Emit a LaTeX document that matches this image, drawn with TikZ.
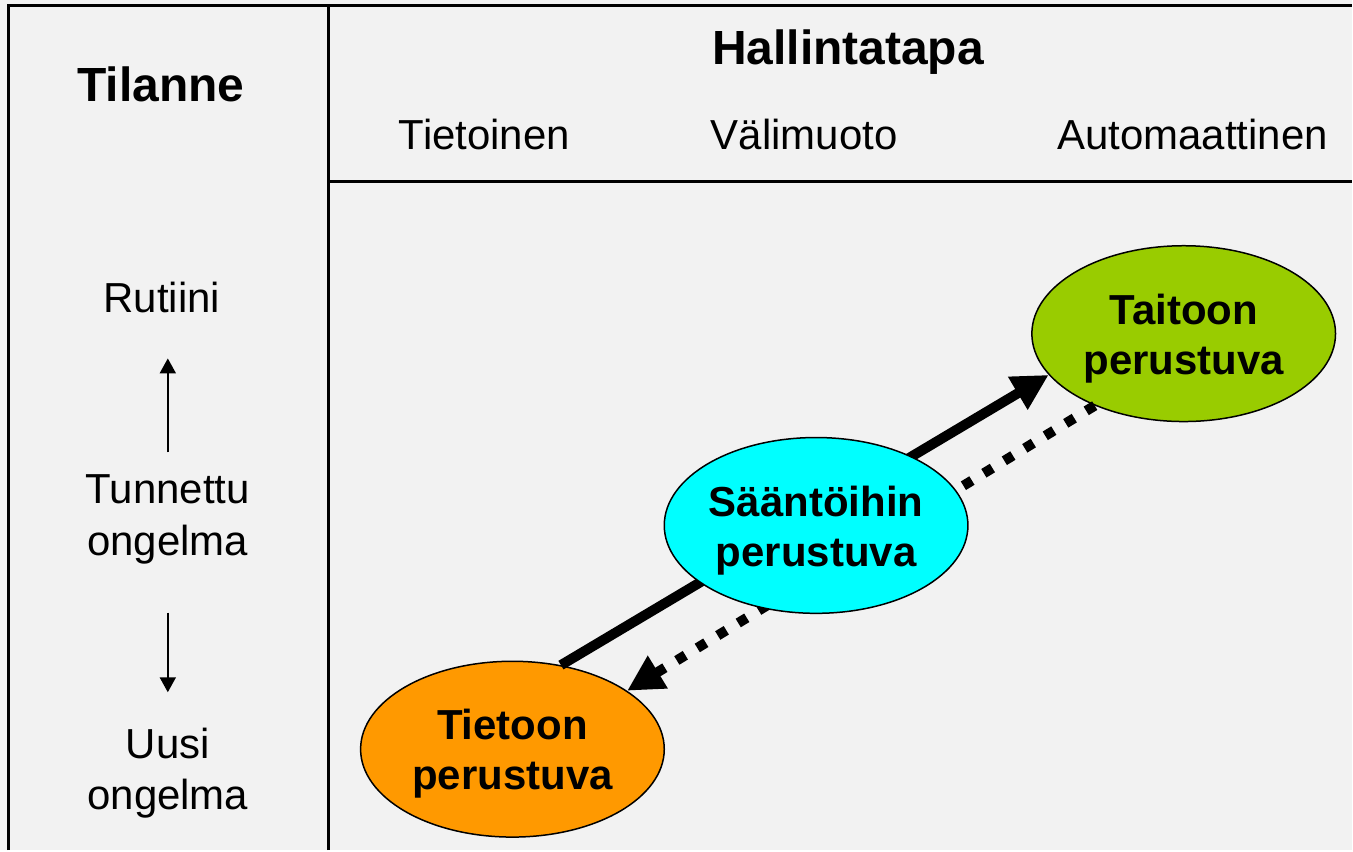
\documentclass[tikz,border=0pt]{standalone}
\usepackage{fontspec}
\setmainfont{Liberation Sans}
\usepackage{tikz}
\usetikzlibrary{arrows.meta,shapes.geometric}
\definecolor{bgGray}{HTML}{F2F2F2}
\definecolor{orangeFill}{HTML}{FF9900}
\definecolor{cyanFill}{HTML}{00FFFF}
\definecolor{greenFill}{HTML}{99CC00}
\newcommand{\topPad}{\rule{0pt}{20pt}}

\begin{document}
\begin{tikzpicture}[x=0.5pt,y=-0.5pt,
			frameLine/.style={draw=black, line width=1.5pt},
			titleText/.style={inner sep=0pt, font=\fontsize{24pt}{29pt}\selectfont\bfseries},
			labelText/.style={inner sep=0pt, font=\fontsize{21pt}{26pt}\selectfont},
			bubble/.style={shape=ellipse, draw=black, line width=0.75pt, inner sep=0pt,
				minimum width=152pt, minimum height=88pt, align=center,
				font=\fontsize{21pt}{25pt}\selectfont\bfseries},
			flowArrow/.style={line width=5pt, -{Triangle[length=18pt,width=18pt]}},
			backArrow/.style={line width=5pt, dash pattern=on 5pt off 7pt, -{Triangle[length=18pt,width=18pt]}},
			thinArrow/.style={line width=1pt, -{Triangle[length=7.5pt,width=8pt]}}]
  \fill[bgGray] (0,0) rectangle (1353,851);
  % ruudukko
  \draw[frameLine] (8.7,851) -- (8.7,5.7) -- (1353,5.7);
  \draw[frameLine] (329,851) -- (329,5.7);
  \draw[frameLine] (329,182) -- (1353,182);
  % otsikot
  \node[titleText, anchor=base] (tilanne) at (161,102) {Tilanne};
  \node[titleText, anchor=base] (hallinta) at (849,65) {Hallintatapa};
  \node[labelText, anchor=base] (tietoinen) at (485,150) {Tietoinen};
  \node[labelText, anchor=base] (valimuoto) at (805,150) {Välimuoto};
  \node[labelText, anchor=base] (automaat) at (1194,150) {Automaattinen};
  % tilanteet
  \node[labelText, anchor=base] (rutiini) at (162,313) {Rutiini};
  \node[labelText, align=center] (tunnettu) at (168,520) {Tunnettu\\ongelma};
  \node[labelText, align=center] (uusi) at (168,774) {Uusi\\ongelma};
  \draw[thinArrow, shorten <=11pt, shorten >=22.5pt] (tunnettu.north) -- (tunnettu.north |- rutiini.south);
  \draw[thinArrow, shorten <=24pt, shorten >=17.5pt] (tunnettu.south) -- (tunnettu.south |- uusi.north);
  % tasot
  \node[bubble, fill=orangeFill] (tieto) at (513,750) {\topPad Tietoon\\perustuva};
  \node[bubble, fill=greenFill] (taito) at (1185,334) {\topPad Taitoon\\perustuva};
  \draw[flowArrow] (tieto.60) -- (taito.197);
  \draw[backArrow] (taito.219) -- (tieto.27);
  \node[bubble, fill=cyanFill] (saanto) at (817,526) {\topPad Sääntöihin\\perustuva};
\end{tikzpicture}
\end{document}
